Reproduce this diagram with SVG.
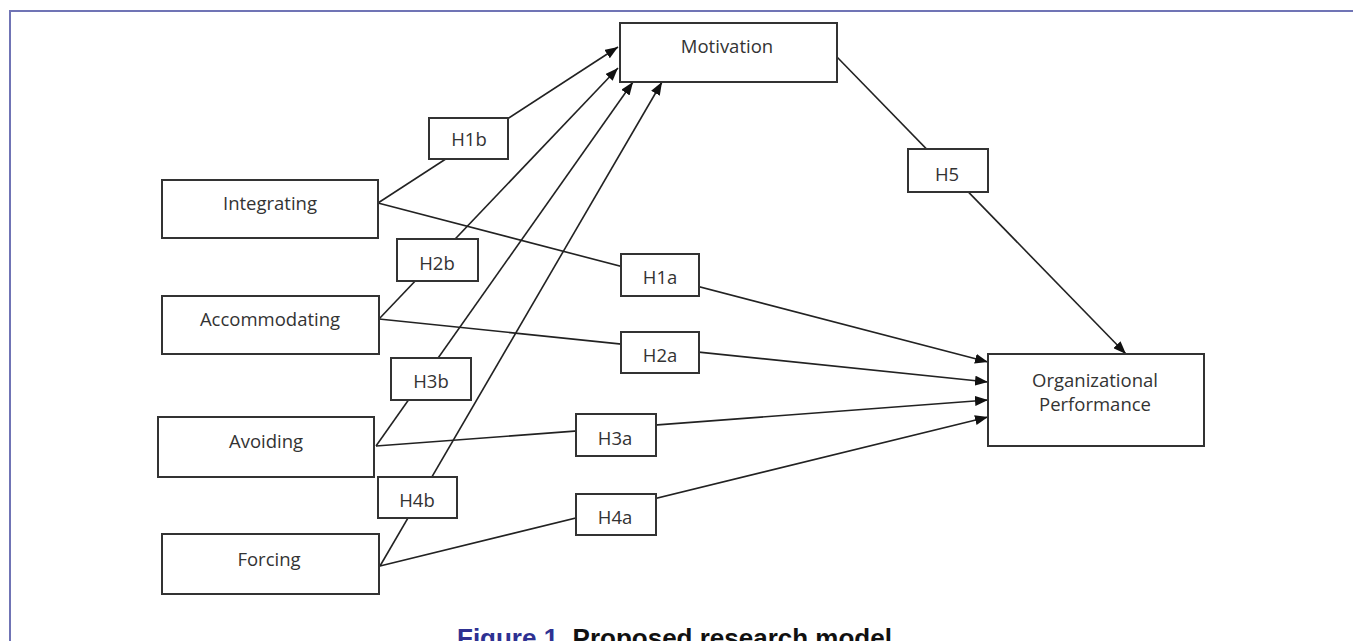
<svg xmlns="http://www.w3.org/2000/svg" width="1353" height="641" viewBox="0 0 1353 641">
<defs>
<marker id="arr" markerUnits="userSpaceOnUse" markerWidth="14" markerHeight="10" refX="13" refY="5" orient="auto">
<path d="M0,0 L13,5 L0,10 z" fill="#111"/>
</marker>
<style>
.box{fill:#fff;stroke:#333;stroke-width:2}
.lbl{font-family:"Open Sans","Liberation Sans",sans-serif;font-size:18.5px;fill:#333;text-anchor:middle}
.con{stroke:#222;stroke-width:1.6;fill:none;marker-end:url(#arr)}
.frame{stroke:#7074b5;stroke-width:2;fill:none}
</style>
</defs>
<rect width="1353" height="641" fill="#fff"/>
<path class="frame" d="M10,641 V11 H1353"/>
<g id="connectors">
<line class="con" x1="378" y1="203" x2="618" y2="47"/>
<line class="con" x1="378" y1="203" x2="988" y2="362"/>
<line class="con" x1="379" y1="319" x2="618" y2="68"/>
<line class="con" x1="379" y1="319" x2="988" y2="382"/>
<line class="con" x1="376" y1="446" x2="633" y2="82"/>
<line class="con" x1="376" y1="446" x2="988" y2="400"/>
<line class="con" x1="380" y1="566" x2="662" y2="82"/>
<line class="con" x1="380" y1="566" x2="988" y2="417"/>
<line class="con" x1="837" y1="57" x2="1126" y2="354"/>
</g>
<g id="motivation"><rect class="box" x="620" y="23" width="217" height="59"/><text class="lbl" x="727" y="53">Motivation</text></g>
<g id="integrating"><rect class="box" x="162" y="180" width="216" height="58"/><text class="lbl" x="270" y="210">Integrating</text></g>
<g id="accommodating"><rect class="box" x="162" y="296" width="217" height="58"/><text class="lbl" x="270" y="326">Accommodating</text></g>
<g id="avoiding"><rect class="box" x="158" y="417" width="216" height="60"/><text class="lbl" x="266" y="448">Avoiding</text></g>
<g id="forcing"><rect class="box" x="162" y="534" width="217" height="60"/><text class="lbl" x="269" y="566">Forcing</text></g>
<g id="performance"><rect class="box" x="988" y="354" width="216" height="92"/><text class="lbl" x="1095" y="387">Organizational</text><text class="lbl" x="1095" y="411">Performance</text></g>
<g id="h1b"><rect class="box" x="429" y="118" width="79" height="41"/><text class="lbl" x="469" y="146">H1b</text></g>
<g id="h2b"><rect class="box" x="397" y="239" width="81" height="42"/><text class="lbl" x="437" y="270">H2b</text></g>
<g id="h3b"><rect class="box" x="391" y="358" width="80" height="42"/><text class="lbl" x="431" y="388">H3b</text></g>
<g id="h4b"><rect class="box" x="378" y="477" width="79" height="41"/><text class="lbl" x="417" y="507">H4b</text></g>
<g id="h1a"><rect class="box" x="621" y="254" width="78" height="42"/><text class="lbl" x="660" y="284">H1a</text></g>
<g id="h2a"><rect class="box" x="621" y="332" width="78" height="41"/><text class="lbl" x="660" y="362">H2a</text></g>
<g id="h3a"><rect class="box" x="576" y="414" width="80" height="42"/><text class="lbl" x="615" y="445">H3a</text></g>
<g id="h4a"><rect class="box" x="576" y="494" width="80" height="41"/><text class="lbl" x="615" y="524">H4a</text></g>
<g id="h5"><rect class="box" x="908" y="149" width="80" height="43"/><text class="lbl" x="947" y="181">H5</text></g>
<text x="457" y="647" font-family="Liberation Sans, Arial, sans-serif" font-size="26" font-weight="bold"><tspan fill="#2e3192">Figure 1.</tspan><tspan fill="#111"> Proposed research model</tspan></text>
</svg>
